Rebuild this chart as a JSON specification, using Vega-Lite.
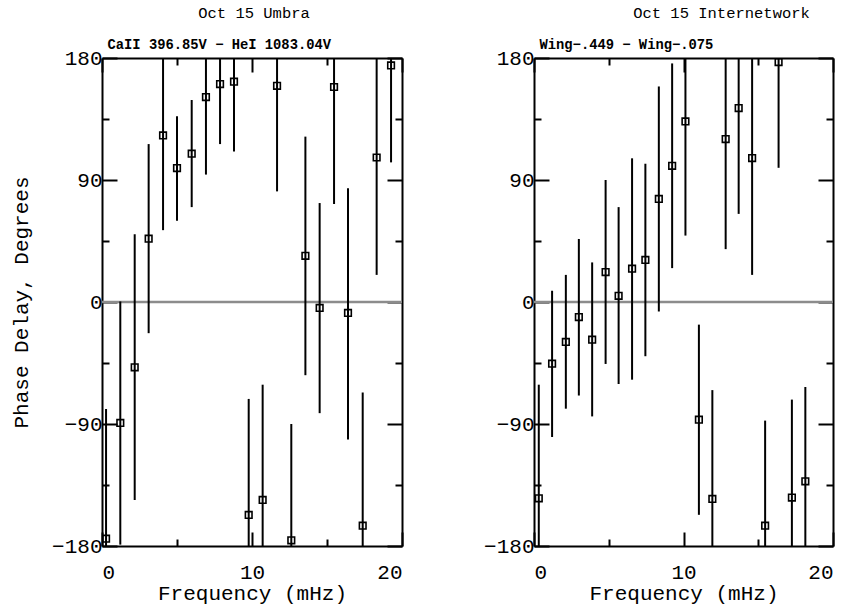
{
  "$schema": "https://vega.github.io/schema/vega-lite/v6.json",
  "background": "white",
  "padding": {"left": 10, "top": 5, "right": 5, "bottom": 5},
  "bounds": "flush",
  "spacing": 132,
  "datasets": {
    "umbra": [
      {"freq": 0.27, "phase": -174.6, "lo": -270, "hi": -79},
      {"freq": 1.22, "phase": -89.2, "lo": -179, "hi": 0.4},
      {"freq": 2.18, "phase": -48.2, "lo": -146, "hi": 50},
      {"freq": 3.11, "phase": 46.7, "lo": -23, "hi": 116.5},
      {"freq": 4.07, "phase": 122.9, "lo": 53, "hi": 193},
      {"freq": 5.0, "phase": 98.8, "lo": 60, "hi": 137},
      {"freq": 5.98, "phase": 109.4, "lo": 70, "hi": 149},
      {"freq": 6.93, "phase": 151.2, "lo": 94, "hi": 208},
      {"freq": 7.87, "phase": 160.8, "lo": 116.5, "hi": 205},
      {"freq": 8.8, "phase": 162.5, "lo": 111, "hi": 214},
      {"freq": 9.78, "phase": -157.1, "lo": -243, "hi": -71.5},
      {"freq": 10.71, "phase": -146, "lo": -231, "hi": -61},
      {"freq": 11.67, "phase": 159.5, "lo": 81.6, "hi": 237},
      {"freq": 12.62, "phase": -175.8, "lo": -262, "hi": -90},
      {"freq": 13.56, "phase": 34.1, "lo": -54, "hi": 122},
      {"freq": 14.51, "phase": -4.4, "lo": -82, "hi": 73},
      {"freq": 15.47, "phase": 158.6, "lo": 72.3, "hi": 245},
      {"freq": 16.4, "phase": -8.1, "lo": -101.5, "hi": 84},
      {"freq": 17.38, "phase": -165, "lo": -264, "hi": -66.7},
      {"freq": 18.31, "phase": 106.6, "lo": 20, "hi": 193},
      {"freq": 19.27, "phase": 174.5, "lo": 103, "hi": 246}
    ],
    "inter": [
      {"freq": 0.32, "phase": -144.8, "lo": -229, "hi": -61},
      {"freq": 1.21, "phase": -45.5, "lo": -99.6, "hi": 8.3},
      {"freq": 2.13, "phase": -29.5, "lo": -78.7, "hi": 20},
      {"freq": 3.0, "phase": -11.1, "lo": -69, "hi": 46.5},
      {"freq": 3.89, "phase": -27.8, "lo": -84.4, "hi": 29.2},
      {"freq": 4.79, "phase": 22.1, "lo": -45.7, "hi": 90},
      {"freq": 5.66, "phase": 4.6, "lo": -60.5, "hi": 70},
      {"freq": 6.56, "phase": 24.6, "lo": -57.3, "hi": 106},
      {"freq": 7.45, "phase": 31, "lo": -40, "hi": 102},
      {"freq": 8.35, "phase": 76, "lo": -7, "hi": 159},
      {"freq": 9.24, "phase": 100.5, "lo": 25, "hi": 176},
      {"freq": 10.13, "phase": 133.2, "lo": 49, "hi": 217},
      {"freq": 11.03, "phase": -86.8, "lo": -157, "hi": -16.7},
      {"freq": 11.93, "phase": -145.3, "lo": -225, "hi": -65},
      {"freq": 12.82, "phase": 120.2, "lo": 39, "hi": 201},
      {"freq": 13.69, "phase": 143.1, "lo": 65, "hi": 221},
      {"freq": 14.59, "phase": 106.2, "lo": 20, "hi": 192},
      {"freq": 15.46, "phase": -165, "lo": -243, "hi": -87.5},
      {"freq": 16.36, "phase": 177, "lo": 99, "hi": 255},
      {"freq": 17.25, "phase": -144.3, "lo": -216, "hi": -72},
      {"freq": 18.15, "phase": -132.3, "lo": -202, "hi": -62.7}
    ]
  },
  "config": {
    "view": {"stroke": null},
    "font": "Liberation Mono",
    "title": {"font": "Liberation Mono", "fontSize": 15.5, "fontWeight": "normal", "color": "black", "offset": 16},
    "axis": {
      "grid": false,
      "domainColor": "black",
      "domainWidth": 2,
      "tickColor": "black",
      "tickWidth": 2,
      "labelFont": "Liberation Mono",
      "labelFontSize": 21,
      "labelColor": "black",
      "titleFont": "Liberation Mono",
      "titleFontSize": 21,
      "titleFontWeight": "normal",
      "titleColor": "black"
    }
  },
  "hconcat": [
    {
      "width": 300,
      "height": 488,
      "title": {"text": "Oct 15 Umbra", "dx": 2},
      "data": {"name": "umbra"},
      "resolve": {"axis": {"x": "independent", "y": "independent"}},
      "layer": [
        {
          "data": {"values": [{}]},
          "mark": {"type": "rule", "color": "#8c8c8c", "strokeWidth": 2.5},
          "encoding": {
            "y": {"datum": 0, "type": "quantitative", "scale": {"domain": [-180, 180], "nice": false}, "axis": null}
          }
        },
        {
          "mark": {"type": "rule", "clip": true, "color": "black", "strokeWidth": 2},
          "encoding": {
            "x": {"field": "freq", "type": "quantitative", "scale": {"domain": [0, 20], "nice": false},
              "axis": {"orient": "bottom", "values": [0, 5, 10, 15, 20], "title": "Frequency (mHz)",
                "labelExpr": "datum.value % 10 === 0 ? datum.label : ''",
                "tickSize": {"condition": {"test": "datum.value % 10 === 0", "value": -14}, "value": -7},
                "labelPadding": 29, "titlePadding": 0}},
            "y": {"field": "lo", "type": "quantitative", "scale": {"domain": [-180, 180], "nice": false},
              "axis": {"orient": "left", "values": [-180, -135, -90, -45, 0, 45, 90, 135, 180], "title": "Phase Delay, Degrees",
                "labelExpr": "datum.value % 90 === 0 ? datum.label : ''",
                "tickSize": {"condition": {"test": "datum.value % 90 === 0", "value": -15}, "value": -7},
                "labelPadding": 15, "titlePadding": 20}},
            "y2": {"field": "hi"}
          }
        },
        {
          "mark": {"type": "point", "shape": "square", "filled": false, "color": "black", "size": 44, "strokeWidth": 1.6, "opacity": 1},
          "encoding": {
            "x": {"field": "freq", "type": "quantitative", "scale": {"domain": [0, 20], "nice": false},
              "axis": {"orient": "top", "values": [0, 5, 10, 15, 20], "labels": false,
                "title": "CaII 396.85V − HeI 1083.04V", "titleX": 5, "titleAlign": "left", "titleFontSize": 13.8, "titleFontWeight": "bold",
                "tickSize": {"condition": {"test": "datum.value % 10 === 0", "value": -14}, "value": -7},
                "titlePadding": 6}},
            "y": {"field": "phase", "type": "quantitative", "scale": {"domain": [-180, 180], "nice": false},
              "axis": {"orient": "right", "values": [-180, -135, -90, -45, 0, 45, 90, 135, 180], "labels": false, "title": null,
                "tickSize": {"condition": {"test": "datum.value % 90 === 0", "value": -15}, "value": -7}}}
          }
        }
      ]
    },
    {
      "width": 299,
      "height": 488,
      "title": {"text": "Oct 15 Internetwork", "dx": 38},
      "data": {"name": "inter"},
      "resolve": {"axis": {"x": "independent", "y": "independent"}},
      "layer": [
        {
          "data": {"values": [{}]},
          "mark": {"type": "rule", "color": "#8c8c8c", "strokeWidth": 2.5},
          "encoding": {
            "y": {"datum": 0, "type": "quantitative", "scale": {"domain": [-180, 180], "nice": false}, "axis": null}
          }
        },
        {
          "mark": {"type": "rule", "clip": true, "color": "black", "strokeWidth": 2},
          "encoding": {
            "x": {"field": "freq", "type": "quantitative", "scale": {"domain": [0, 20], "nice": false},
              "axis": {"orient": "bottom", "values": [0, 5, 10, 15, 20], "title": "Frequency (mHz)",
                "labelExpr": "datum.value % 10 === 0 ? datum.label : ''",
                "tickSize": {"condition": {"test": "datum.value % 10 === 0", "value": -14}, "value": -7},
                "labelPadding": 29, "titlePadding": 0}},
            "y": {"field": "lo", "type": "quantitative", "scale": {"domain": [-180, 180], "nice": false},
              "axis": {"orient": "left", "values": [-180, -135, -90, -45, 0, 45, 90, 135, 180], "title": null,
                "labelExpr": "datum.value % 90 === 0 ? datum.label : ''",
                "tickSize": {"condition": {"test": "datum.value % 90 === 0", "value": -15}, "value": -7},
                "labelPadding": 15}},
            "y2": {"field": "hi"}
          }
        },
        {
          "mark": {"type": "point", "shape": "square", "filled": false, "color": "black", "size": 44, "strokeWidth": 1.6, "opacity": 1},
          "encoding": {
            "x": {"field": "freq", "type": "quantitative", "scale": {"domain": [0, 20], "nice": false},
              "axis": {"orient": "top", "values": [0, 5, 10, 15, 20], "labels": false,
                "title": "Wing−.449 − Wing−.075", "titleX": 5, "titleAlign": "left", "titleFontSize": 13.8, "titleFontWeight": "bold",
                "tickSize": {"condition": {"test": "datum.value % 10 === 0", "value": -14}, "value": -7},
                "titlePadding": 6}},
            "y": {"field": "phase", "type": "quantitative", "scale": {"domain": [-180, 180], "nice": false},
              "axis": {"orient": "right", "values": [-180, -135, -90, -45, 0, 45, 90, 135, 180], "labels": false, "title": null,
                "tickSize": {"condition": {"test": "datum.value % 90 === 0", "value": -15}, "value": -7}}}
          }
        }
      ]
    }
  ]
}
